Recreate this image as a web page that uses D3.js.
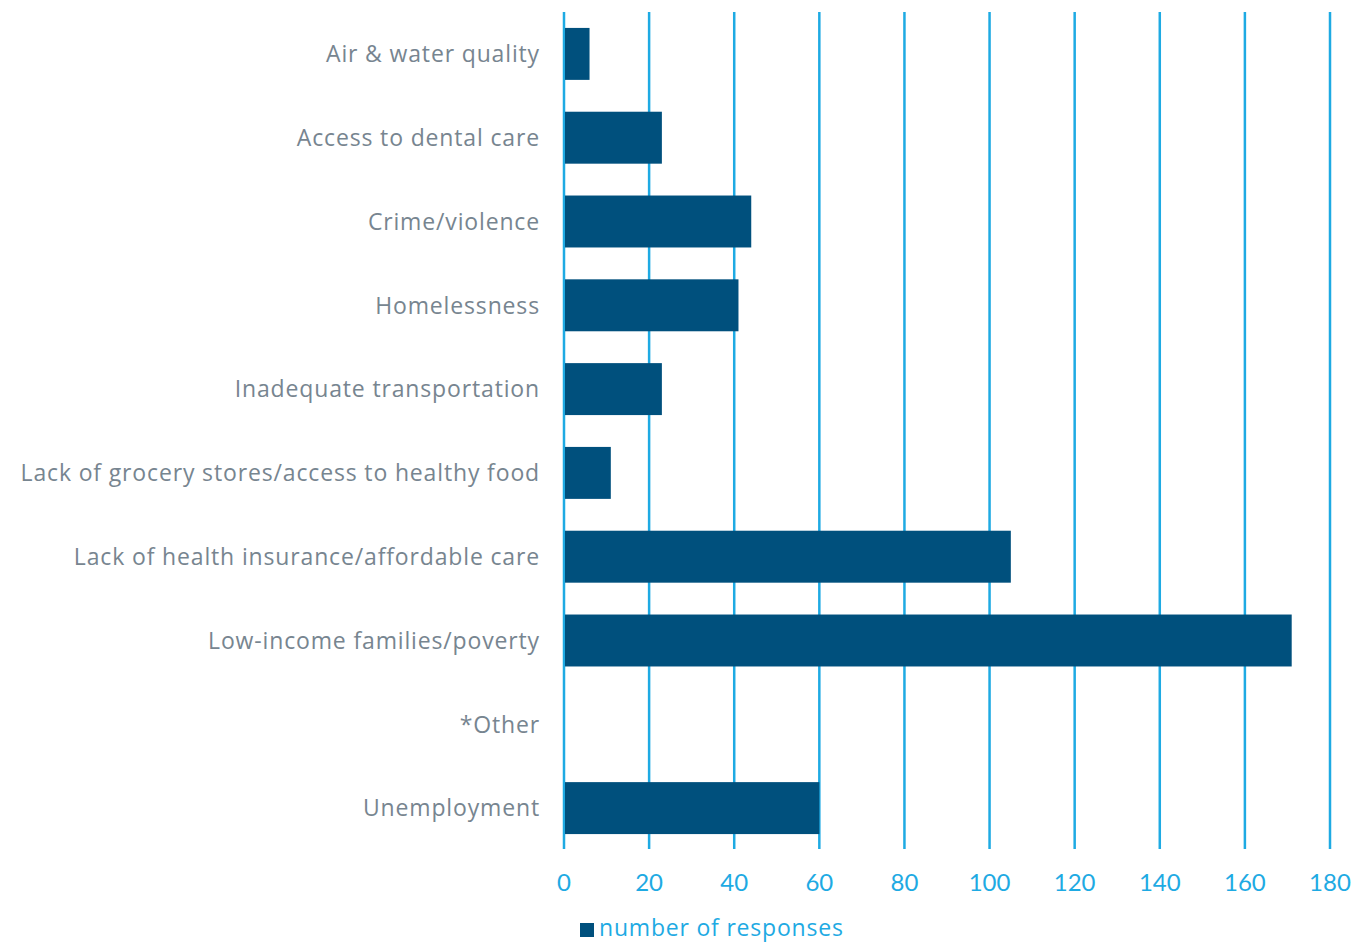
<!DOCTYPE html>
<html>
<head>
<meta charset="utf-8">
<script src="https://cdn.jsdelivr.net/npm/d3@7"></script>
<style>
  html, body { margin: 0; padding: 0; background: #ffffff; }
  svg { display: block; }
</style>
</head>
<body>
<svg id="chart" width="1353" height="943"></svg>
<script>
// Community concerns ranked by number of survey responses
const categories = [
  "Air & water quality",
  "Access to dental care",
  "Crime/violence",
  "Homelessness",
  "Inadequate transportation",
  "Lack of grocery stores/access to healthy food",
  "Lack of health insurance/affordable care",
  "Low-income families/poverty",
  "*Other",
  "Unemployment"
];
const responses = [6, 23, 44, 41, 23, 11, 105, 171, 0, 60];
const tickValues = [0, 20, 40, 60, 80, 100, 120, 140, 160, 180];
const seriesName = "number of responses";

const barColor = "#00507d";
const gridColor = "#1eaae3";
const labelColor = "#778590";
const labelFont = "'Open Sans', Lato, sans-serif";
const tickFont = "Lato, 'Open Sans', sans-serif";

const svg = d3.select("#chart");
const plot = { left: 564, right: 1330, top: 12, bottom: 850 };

const x = d3.scaleLinear().domain([0, 180]).range([plot.left, plot.right]);
const y = d3.scaleBand()
  .domain(categories)
  .range([plot.top, plot.bottom])
  .paddingInner(0.38)
  .paddingOuter(0.19);

// vertical gridlines (extend slightly below the plot as tick marks)
svg.append("g")
  .selectAll("line")
  .data(tickValues)
  .join("line")
  .attr("x1", d => x(d)).attr("x2", d => x(d))
  .attr("y1", plot.top).attr("y2", plot.bottom - 1)
  .attr("stroke", gridColor)
  .attr("stroke-width", 2.5);

// bars
svg.append("g")
  .selectAll("rect")
  .data(categories)
  .join("rect")
  .attr("x", x(0) + 1)
  .attr("y", d => y(d))
  .attr("width", (d, i) => Math.max(0, x(responses[i]) - x(0) - 1))
  .attr("height", y.bandwidth())
  .attr("fill", barColor);

// category labels
svg.append("g")
  .selectAll("text")
  .data(categories)
  .join("text")
  .attr("x", plot.left - 24)
  .attr("y", d => y(d) + y.bandwidth() / 2)
  .attr("dy", "0.36em")
  .attr("text-anchor", "end")
  .attr("fill", labelColor)
  .style("font-family", labelFont)
  .style("font-size", "23px")
  .style("letter-spacing", "0.85px")
  .text(d => d);

// x axis tick labels
svg.append("g")
  .selectAll("text")
  .data(tickValues)
  .join("text")
  .attr("x", d => x(d))
  .attr("y", 891)
  .attr("text-anchor", "middle")
  .attr("fill", gridColor)
  .style("font-family", tickFont)
  .style("font-size", "24px")
  .text(d => d);

// legend
const legend = svg.append("g");
legend.append("rect")
  .attr("x", 580).attr("y", 923)
  .attr("width", 14).attr("height", 14)
  .attr("fill", barColor);
legend.append("text")
  .attr("x", 599).attr("y", 936)
  .attr("fill", gridColor)
  .style("font-family", labelFont)
  .style("font-size", "23px")
  .style("letter-spacing", "0.8px")
  .text(seriesName);
</script>
</body>
</html>
